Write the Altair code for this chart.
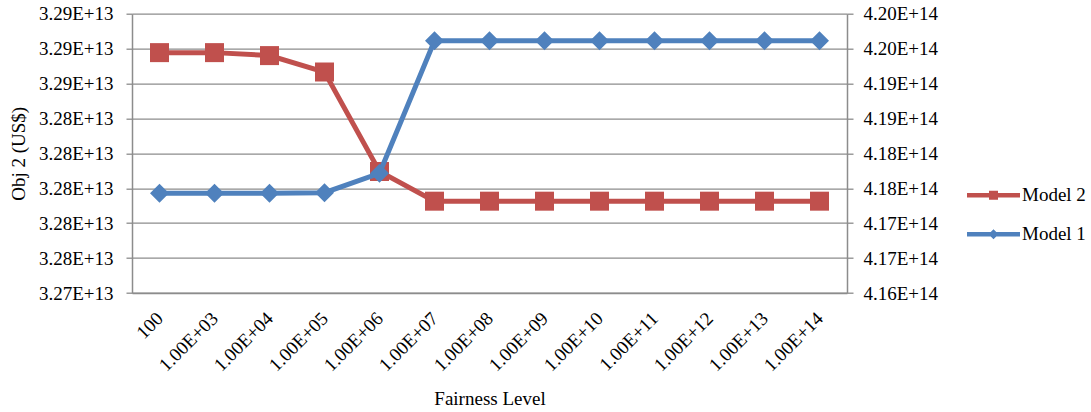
import altair as alt
import pandas as pd

# Fairness levels on the category axis
levels = ["100", "1.00E+03", "1.00E+04", "1.00E+05", "1.00E+06", "1.00E+07",
          "1.00E+08", "1.00E+09", "1.00E+10", "1.00E+11", "1.00E+12",
          "1.00E+13", "1.00E+14"]

# Obj 2 (US$) for each model
model2 = [3.28777e13, 3.28777e13, 3.28760e13, 3.28666e13, 3.28096e13,
          3.27926e13, 3.27926e13, 3.27926e13, 3.27926e13, 3.27926e13,
          3.27926e13, 3.27926e13, 3.27926e13]
model1 = [4.17429e14, 4.17429e14, 4.17429e14, 4.17437e14, 4.17714e14,
          4.19611e14, 4.19611e14, 4.19611e14, 4.19611e14, 4.19611e14,
          4.19611e14, 4.19611e14, 4.19611e14]

# Axis tick values (left: Model 2, right: Model 1)
left_ticks = [3.274e13, 3.276e13, 3.278e13, 3.280e13, 3.282e13,
              3.284e13, 3.286e13, 3.288e13, 3.290e13]
right_ticks = [4.160e14, 4.165e14, 4.170e14, 4.175e14, 4.180e14,
               4.185e14, 4.190e14, 4.195e14, 4.200e14]

series_names = ["Model 2", "Model 1"]
RED = "#C0504D"
BLUE = "#4F81BD"
GRAY = "#8c8c8c"
FONT = "Liberation Serif"
FS = 19

df2 = pd.DataFrame({"level": levels, "value": model2, "series": "Model 2"})
df1 = pd.DataFrame({"level": levels, "value": model1, "series": "Model 1"})

sci = "replace(format(datum.value, '.2e'), 'e', 'E')"

x_enc = alt.X(
    "level:N", sort=levels, scale=alt.Scale(padding=0.5),
    axis=alt.Axis(title="Fairness Level", labelAngle=-45, labelAlign="right",
                  labelBaseline="middle", ticks=False, labelPadding=22,
                  domainColor=GRAY, domainWidth=1.5, grid=False,
                  labelOverlap=False, labelFont=FONT, labelFontSize=FS,
                  labelColor="#000", titleFont=FONT, titleFontSize=FS,
                  titleFontWeight="normal", titleColor="#000", titlePadding=15),
)

# Legend symbol: a line segment with the series marker on it
sq_path = ("M-1,-0.085L1,-0.085L1,0.085L-1,0.085Z"
           "M-0.17,-0.17L0.17,-0.17L0.17,0.17L-0.17,0.17Z")
dm_path = ("M-1,-0.085L1,-0.085L1,0.085L-1,0.085Z"
           "M-0.19,0L0,-0.19L0.19,0L0,0.19Z")

color_enc = alt.Color(
    "series:N",
    scale=alt.Scale(domain=series_names, range=[RED, BLUE]),
    legend=alt.Legend(
        title=None, orient="none", legendX=835, legendY=155,
        symbolSize=2809, symbolStrokeWidth=0, padding=0,
        symbolType=alt.ExprRef(
            expr=f"datum.value === 'Model 2' ? '{sq_path}' : '{dm_path}'"),
        labelFont=FONT, labelFontSize=FS, labelColor="#000",
        labelOffset=2, rowPadding=2,
    ),
)

left_axis = alt.Axis(
    title="Obj 2 (US$)", orient="left", values=left_ticks, labelExpr=sci,
    grid=True, gridColor=GRAY, gridWidth=1.3, domainColor=GRAY,
    domainWidth=1.5, tickColor=GRAY, tickSize=6, tickWidth=1.3,
    labelPadding=13, labelFont=FONT, labelFontSize=FS, labelColor="#000",
    titleFont=FONT, titleFontSize=FS, titleFontWeight="normal",
    titleColor="#000", titlePadding=10, labelFlush=False,
)
right_axis = alt.Axis(
    title=None, orient="right", values=right_ticks, labelExpr=sci,
    grid=False, domainColor=GRAY, domainWidth=1.5, tickColor=GRAY,
    tickSize=6, tickWidth=1.3, labelPadding=10, labelFont=FONT,
    labelFontSize=FS, labelColor="#000", labelFlush=False,
)

base2 = alt.Chart(df2).encode(
    x=x_enc,
    y=alt.Y("value:Q", scale=alt.Scale(domain=[3.274e13, 3.290e13],
                                       zero=False, nice=False),
            axis=left_axis),
)
base1 = alt.Chart(df1).encode(
    x=x_enc,
    y=alt.Y("value:Q", scale=alt.Scale(domain=[4.160e14, 4.200e14],
                                       zero=False, nice=False),
            axis=right_axis),
)

layer2 = alt.layer(
    base2.mark_line(color=RED, strokeWidth=5),
    base2.mark_point(filled=True, size=361, shape="square", opacity=1)
    .encode(color=color_enc),
)
layer1 = alt.layer(
    base1.mark_line(color=BLUE, strokeWidth=5),
    base1.mark_point(filled=True, size=361, shape="diamond", opacity=1)
    .encode(color=color_enc),
)

chart = (
    alt.layer(layer2, layer1)
    .resolve_scale(y="independent")
    .properties(
        width=715, height=279.3,
        autosize=alt.AutoSizeParams(type="none"),
        padding={"left": 132, "top": 13.7, "right": 244, "bottom": 119},
        background="white",
    )
    .configure_view(stroke=None)
)

chart.save("out.html", embed_options={"renderer": "svg", "actions": False})
